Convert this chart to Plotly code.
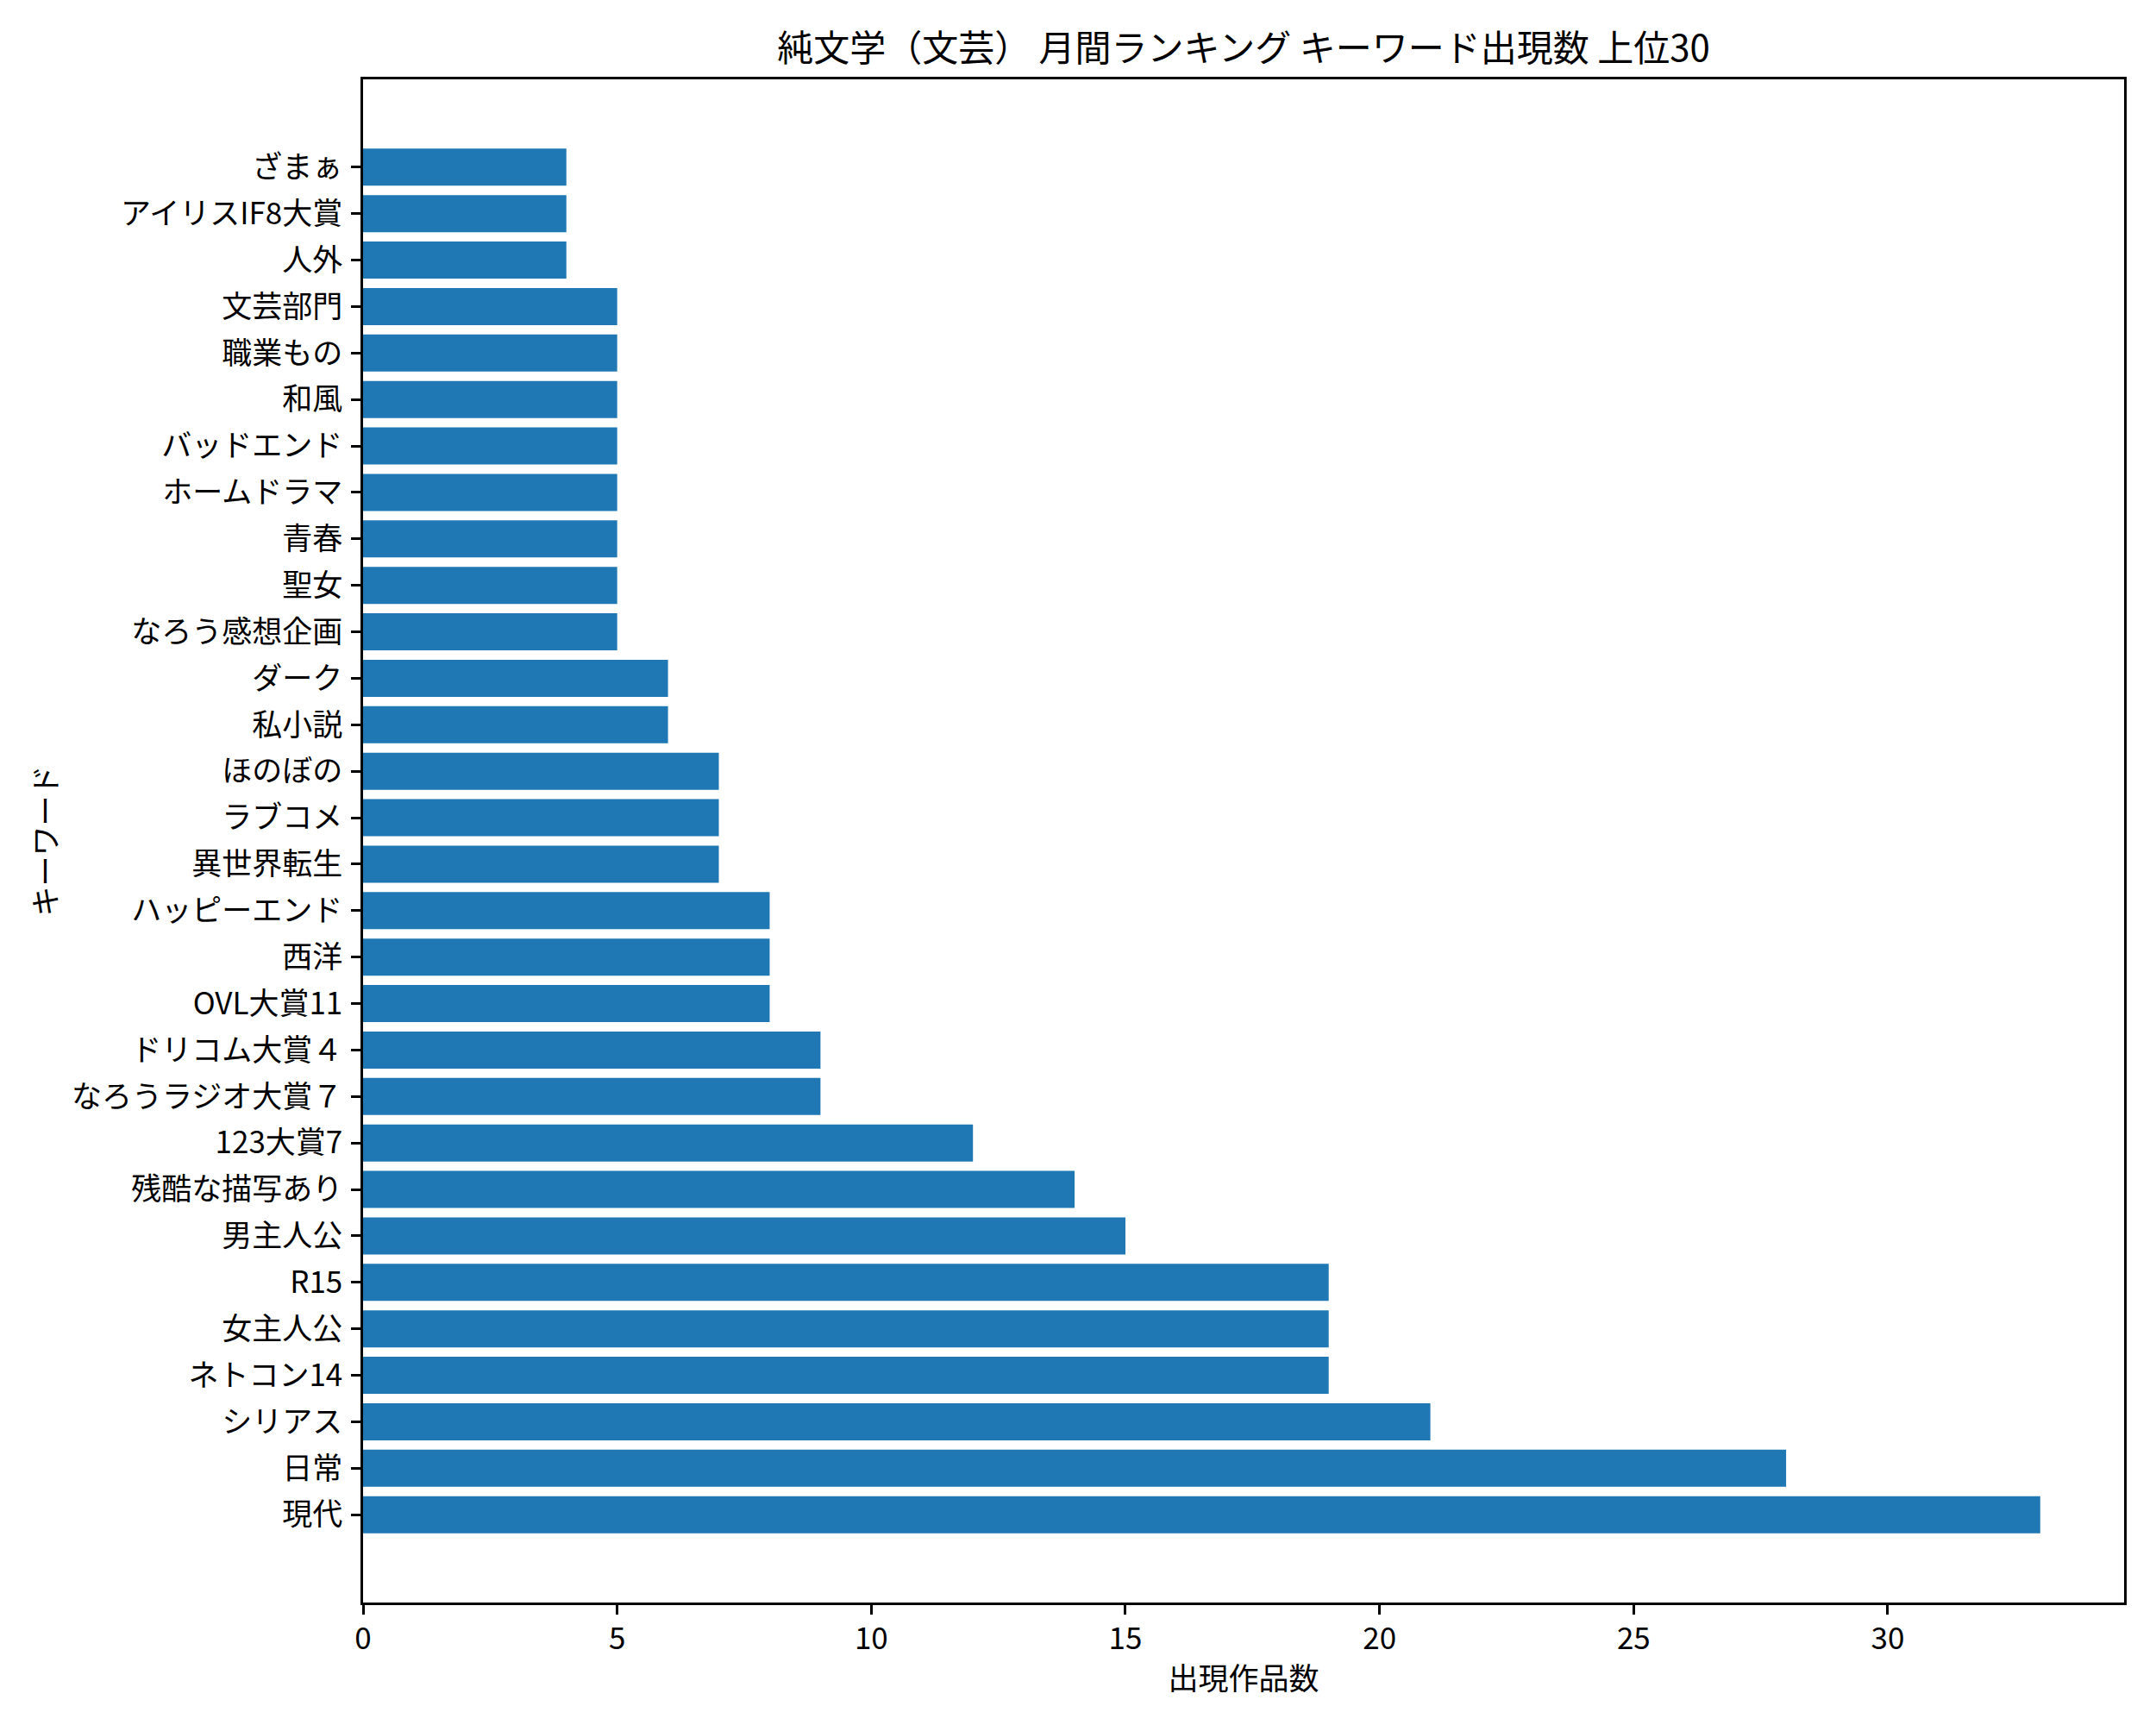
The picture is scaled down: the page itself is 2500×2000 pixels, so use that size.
import plotly.graph_objects as go

keywords = ["現代", "日常", "シリアス", "ネトコン14", "女主人公", "R15", "男主人公",
            "残酷な描写あり", "123大賞7", "なろうラジオ大賞７", "ドリコム大賞４", "OVL大賞11",
            "西洋", "ハッピーエンド", "異世界転生", "ラブコメ", "ほのぼの", "私小説", "ダーク",
            "なろう感想企画", "聖女", "青春", "ホームドラマ", "バッドエンド", "和風", "職業もの",
            "文芸部門", "人外", "アイリスIF8大賞", "ざまぁ"]
counts = [33, 28, 21, 19, 19, 19, 15, 14, 12, 9, 9, 8, 8, 8, 7, 7, 7, 6, 6,
          5, 5, 5, 5, 5, 5, 5, 5, 4, 4, 4]
x_ticks = [0, 5, 10, 15, 20, 25, 30]

title_text = "純文学（文芸） 月間ランキング キーワード出現数 上位30"
x_title = "出現作品数"
y_title = "キーワード"

FONT = "Noto Sans CJK JP"
BAR = "#1f77b4"
TICK_SIZE = 35
TITLE_SIZE = 42

fig = go.Figure(go.Bar(
    x=counts, y=keywords, orientation="h",
    marker=dict(color=BAR, line=dict(width=0)),
))

xmax = max(counts) * 1.05
n = len(keywords)
pad = (n - 1 + 0.8) * 0.05

fig.update_layout(
    width=2500, height=2000,
    margin=dict(l=413, r=45, t=84, b=150, autoexpand=False),
    paper_bgcolor="white", plot_bgcolor="white",
    font=dict(family=FONT, size=TICK_SIZE, color="black"),
    bargap=0.2,
    showlegend=False,
    title=dict(text=title_text, x=0.5, xref="paper", xanchor="center",
               y=1 - 48 / 2000, yref="container", yanchor="middle",
               font=dict(family=FONT, size=TITLE_SIZE, color="black")),
)

fig.update_xaxes(
    range=[0, xmax], tickvals=x_ticks, ticktext=[str(v) for v in x_ticks],
    showgrid=False, zeroline=False,
    showline=True, linecolor="black", linewidth=2.5, mirror=True,
    ticks="outside", ticklen=11, tickwidth=2.5, tickcolor="black",
    ticklabelstandoff=-2,
    tickfont=dict(family=FONT, size=TICK_SIZE, color="black"),
    title=dict(text=x_title, font=dict(family=FONT, size=TICK_SIZE, color="black"), standoff=14),
)

fig.update_yaxes(
    type="category", categoryorder="array", categoryarray=keywords,
    range=[-0.4 - pad, n - 1 + 0.4 + pad],
    showgrid=False, zeroline=False,
    showline=True, linecolor="black", linewidth=2.5, mirror=True,
    ticks="outside", ticklen=11, tickwidth=2.5, tickcolor="black",
    ticklabelstandoff=3,
    tickfont=dict(family=FONT, size=TICK_SIZE, color="black"),
    title=dict(text=y_title, font=dict(family=FONT, size=TICK_SIZE, color="black"), standoff=6),
)

fig.write_html("out.html")
